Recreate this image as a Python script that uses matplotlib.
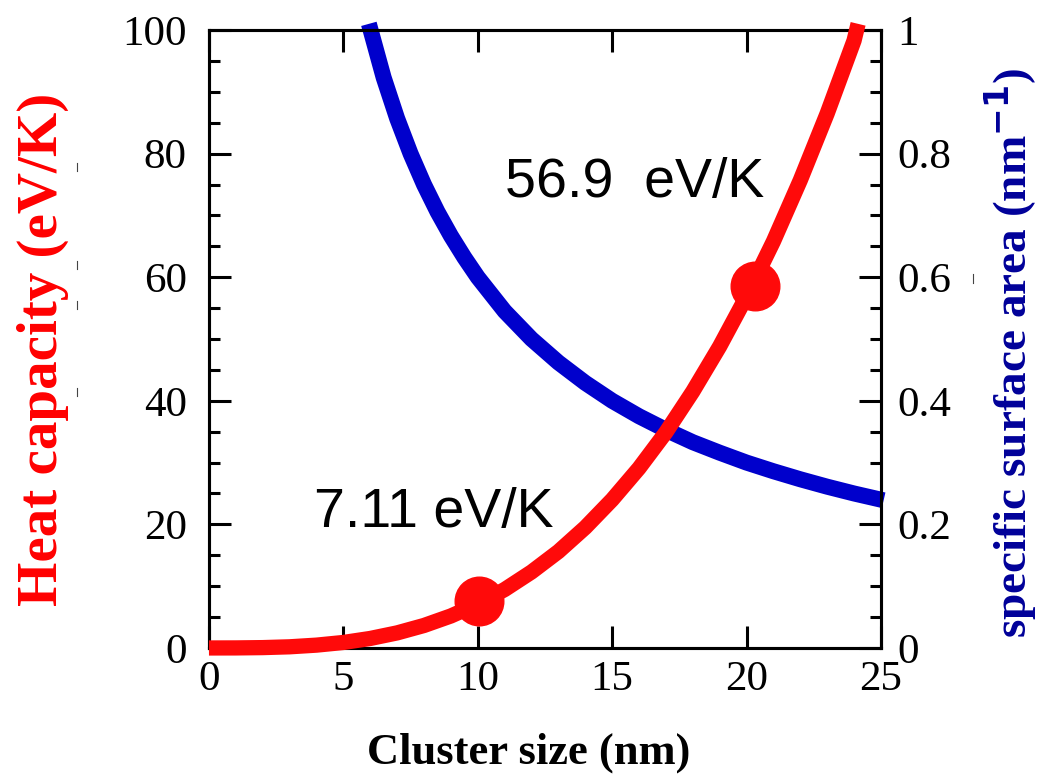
import numpy as np
import matplotlib
matplotlib.use('Agg')
import matplotlib.pyplot as plt
from matplotlib.ticker import MultipleLocator, FuncFormatter
from matplotlib.lines import Line2D

# 数据
size_red = [0, 1, 2, 3, 4, 5, 6, 7, 8, 9, 10, 11, 12, 13, 14, 15, 16, 17, 18, 19,
            20, 21, 22, 23, 24, 24.15]
heat_cap = [0, 0.01, 0.06, 0.19, 0.46, 0.89, 1.54, 2.44, 3.64, 5.18, 7.11, 9.46, 12.3,
            15.6, 19.5, 24.0, 29.1, 34.9, 41.5, 48.8, 56.9, 65.8, 75.7, 86.5, 98.3, 101.0]
size_blue = [5.95, 6.5, 7, 7.5, 8, 8.5, 9, 9.5, 10, 11, 12, 13, 14, 15, 16, 17, 18, 19,
             20, 21, 22, 23, 24, 25.1]
surf_area = [1.01, 0.923, 0.857, 0.8, 0.75, 0.706, 0.667, 0.632, 0.6, 0.545, 0.5, 0.462,
             0.429, 0.4, 0.375, 0.353, 0.333, 0.316, 0.3, 0.286, 0.273, 0.261, 0.25, 0.239]
dot_x = [10.05, 20.3]
dot_y = [7.6, 58.5]
labels = ['7.11 eV/K', '56.9  eV/K']
label_x = [3.9, 11.0]
label_y = [19.6, 73.0]

RED = '#ff0a0a'
BLUE = '#0000cc'
NAVY = '#000099'
serif = ['Liberation Serif', 'DejaVu Serif']

fig = plt.figure(figsize=(10.5, 7.84), dpi=100)
ax = fig.add_axes([0.199, 0.1735, 0.64, 0.7882])
ax2 = ax.twinx()

ax.plot(size_red, heat_cap, color=RED, lw=11, solid_capstyle='butt', clip_on=False, zorder=3)
ax.plot(dot_x, dot_y, 'o', color=RED, ms=35, clip_on=False, zorder=4)
ax2.plot(size_blue, surf_area, color=BLUE, lw=11.5, solid_capstyle='butt', clip_on=False)

ax.set_xlim(0, 25)
ax.set_ylim(0, 100)
ax2.set_ylim(0, 1)
ax.xaxis.set_major_locator(MultipleLocator(5))
ax.yaxis.set_major_locator(MultipleLocator(20))
ax.yaxis.set_minor_locator(MultipleLocator(5))
ax2.yaxis.set_major_locator(MultipleLocator(0.2))
ax2.yaxis.set_minor_locator(MultipleLocator(0.05))
ax2.yaxis.set_major_formatter(FuncFormatter(lambda v, p: f'{v:g}'))

for a in (ax, ax2):
    for s in a.spines.values():
        s.set_linewidth(2.2)
    a.tick_params(which='major', direction='in', length=16, width=2.2, labelsize=31, pad=14)
    a.tick_params(which='minor', direction='in', length=8, width=2.2)
    for lab in a.get_xticklabels() + a.get_yticklabels():
        lab.set_fontfamily(serif)
ax.tick_params(axis='x', top=True, pad=9)
ax.tick_params(axis='y', pad=16)
ax2.tick_params(axis='y', pad=12)
ax2.set_zorder(ax.get_zorder() - 1)
ax.patch.set_visible(False)

ax.set_xlabel('Cluster size (nm)', fontsize=32, fontweight='bold', family=serif, labelpad=24)
ax.xaxis.label.set_x(0.476)
ax.set_ylabel('Heat capacity (eV/K)', fontsize=41, fontweight='bold', family=serif,
              color='red', labelpad=38)
ax.yaxis.label.set_y(0.483)
ax2.set_ylabel('specific surface area (nm$^{\\mathbf{-1}}$)', fontsize=34, fontweight='bold',
               family=serif, color=NAVY, labelpad=22)
ax2.yaxis.label.set_y(0.478)

for txt, x, y in zip(labels, label_x, label_y):
    ax.text(x, y, txt, fontsize=40, family=['Liberation Sans', 'DejaVu Sans'], zorder=5)

# 图片边缘的小刻痕
for yy in [167, 265, 305, 392]:
    fig.add_artist(Line2D([77 / 1050, 77 / 1050], [1 - (yy - 4) / 784, 1 - (yy + 4) / 784],
                          color='#444444', lw=0.8))
fig.add_artist(Line2D([973 / 1050, 973 / 1050], [1 - 274 / 784, 1 - 283 / 784],
                      color='#444444', lw=0.8))

fig.savefig('out.png', dpi=100)
